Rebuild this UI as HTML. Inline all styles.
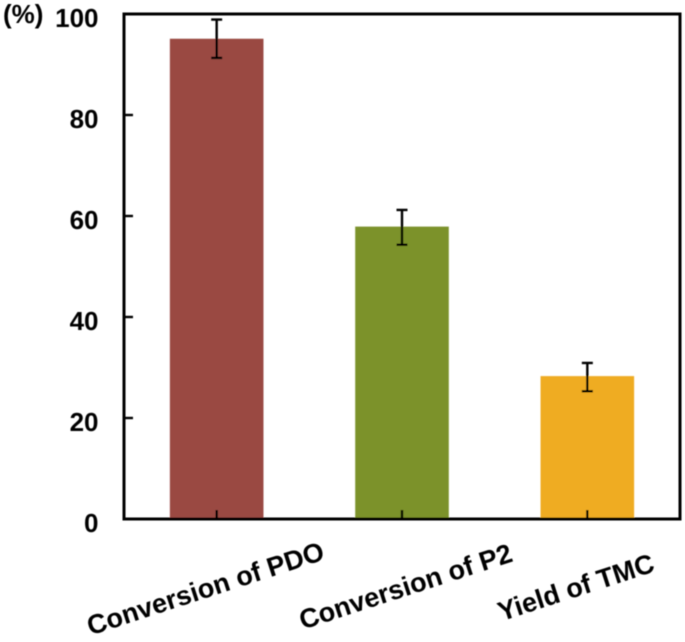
<!DOCTYPE html>
<html>
<head>
<meta charset="utf-8">
<style>
html,body{margin:0;padding:0;background:#fff;}
svg{display:block;}
text{font-family:"Liberation Sans",Arial,sans-serif;font-weight:bold;fill:#000;}
</style>
</head>
<body>
<svg id="chart" width="685" height="642" viewBox="0 0 685 642" xmlns="http://www.w3.org/2000/svg">
<defs><filter id="soft" x="-5%" y="-5%" width="110%" height="110%"><feGaussianBlur stdDeviation="0.45"/></filter></defs>
<g id="root" filter="url(#soft)"></g>
</svg>
<script>
const categories = ["Conversion of PDO", "Conversion of P2", "Yield of TMC"];
const values = [95.1, 57.9, 28.3];
const errorHigh = [98.9, 61.2, 30.9];
const errorLow = [91.3, 54.3, 25.3];
const barColors = ["#9a4a42", "#7c922a", "#efac24"];
const yTicks = [0, 20, 40, 60, 80, 100];

const NS = "http://www.w3.org/2000/svg";
const root = document.getElementById("root");
const plot = {left: 124, right: 680, top: 14, bottom: 519};
const yMax = 100;
const y = v => plot.bottom - (v / yMax) * (plot.bottom - plot.top);
const band = (plot.right - plot.left) / categories.length;
const xCenter = i => plot.left + band * (i + 0.5);
const barWidth = band * 0.505;

function make(tag, attrs, text) {
  const el = document.createElementNS(NS, tag);
  for (const k in attrs) el.setAttribute(k, attrs[k]);
  if (text !== undefined) el.textContent = text;
  root.appendChild(el);
  return el;
}

categories.forEach((c, i) => {
  const bar = make("rect", {x: xCenter(i) - barWidth / 2, y: y(values[i]), width: barWidth, height: plot.bottom - y(values[i]), fill: barColors[i]});
  
  
});

categories.forEach((c, i) => {
  const cx = xCenter(i);
  const stem = make("line", {x1: cx, x2: cx, y1: y(errorHigh[i]), y2: y(errorLow[i]), stroke: "#000", "stroke-width": 2.4});
  
  
  [errorHigh[i], errorLow[i]].forEach(v => {
    const cap = make("line", {x1: cx - 5.5, x2: cx + 5.5, y1: y(v), y2: y(v), stroke: "#000", "stroke-width": 2.4});
    
    
  });
  const tick = make("line", {x1: cx, x2: cx, y1: plot.bottom - 9, y2: plot.bottom, stroke: "#000", "stroke-width": 2.4});
  
  
});

const frame = make("rect", {x: plot.left, y: plot.top, width: plot.right - plot.left, height: plot.bottom - plot.top, fill: "none", stroke: "#000", "stroke-width": 3});



yTicks.forEach(t => {
  if (t !== 0 && t !== yMax) {
    const tick = make("line", {x1: plot.left, x2: plot.left + 9, y1: y(t), y2: y(t), stroke: "#000", "stroke-width": 2.4});
    
    
  }
  const label = make("text", {x: 98.5, y: y(t) + 13, "text-anchor": "end", "font-size": 26}, String(t));
  
  
});

const unit = make("text", {x: 3, y: 23, "font-size": 26}, "(%)");



const labelEnds = [[326, 559], [514, 561], [656, 571]];
categories.forEach((c, i) => {
  const [ex, ey] = labelEnds[i];
  const label = make("text", {x: ex, y: ey, "text-anchor": "end", "font-size": 27, transform: "rotate(-18 " + ex + " " + ey + ")"}, c);
  
  
});
</script>
</body>
</html>
